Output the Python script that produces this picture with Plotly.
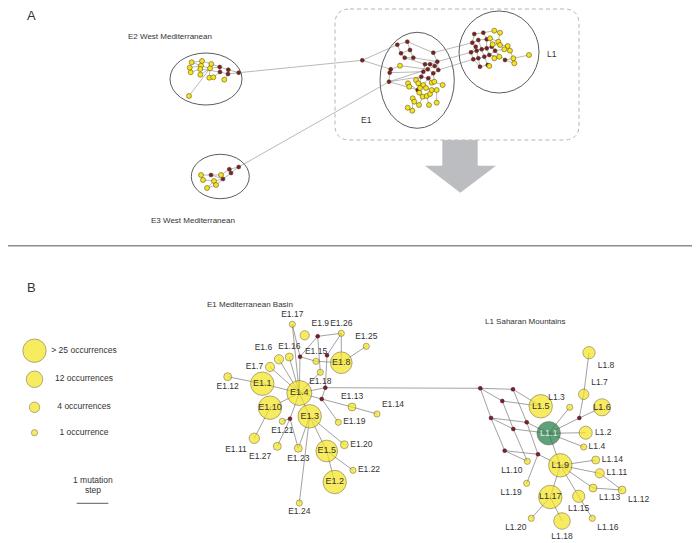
import plotly.graph_objects as go

# ---- panel A: overview network (pixel layout of the original figure) ----
a_x = [191.7, 202, 211.3, 189.7, 201, 190.7, 200.3, 210, 200.3, 209.3, 213.3, 224.3, 189,
       219.7, 220, 228.3, 228, 238.7,
       201, 203, 207, 214, 216, 221, 211, 223, 229.3, 231, 238.7,
       362.3,
       397.3, 407.3, 401, 410, 390.7, 389.7, 389, 404.7, 413.3, 433.3, 425, 430, 437.3, 434.7,
       427.7, 438.3, 423.3, 433.3, 421.3, 428.3, 417.7,
       400, 408, 409.3, 416, 418.3, 423.3, 431.7, 434.3, 442.7, 419.3, 422.7, 426.7, 430, 431.7,
       436.7, 412.7, 414.3, 419, 429, 436.7, 407.7, 412.3, 420, 426,
       474.3, 483.3, 472.3, 478.3, 486.7, 471, 476.7, 481.7, 486.7, 491.7, 473.3, 478.3, 484.3,
       489.3, 480, 487.7, 505, 475.7, 495,
       494.3, 500, 490, 498.3, 492.7, 500, 507.7, 504.3, 510, 499.3, 494.3, 489.3, 513.3, 514.3, 529]
a_y = [62.3, 61, 64, 67.7, 65.7, 72.3, 69, 68.3, 74.7, 77.7, 77.3, 79.7, 96,
       67, 72, 69.7, 74, 72.7,
       175, 180, 188, 181, 185, 175, 175, 179, 169.3, 173, 167,
       60.3,
       44.7, 41.7, 53.3, 50, 69.3, 72.7, 81.7, 57.7, 57.7, 52.7, 64.3, 64.3, 61.7, 66,
       69.3, 70, 71.7, 73.3, 76.7, 78.3, 90,
       65.7, 83.3, 86.7, 80, 83.3, 85, 82.7, 81.7, 85, 92.7, 96.7, 96, 94, 90,
       90, 98.3, 101.7, 105, 105, 102.7, 107.7, 110.7, 88, 88,
       34, 32.7, 42.7, 40, 39.3, 52.3, 50.7, 49.3, 48.3, 46.7, 59.3, 58.3, 56.7,
       55, 66.7, 65, 60, 46.7, 50.7,
       30.7, 32.7, 38.3, 41.7, 44.3, 45, 46, 49.3, 50.7, 56.7, 58.3, 66, 58.3, 63.3, 55]
a_kind = (["Y"] * 13 + ["R"] * 5 + ["Y"] * 6 + ["R"] * 5 + ["R"] + ["R"] * 21 + ["Y"] * 24
          + ["R"] * 19 + ["Y"] * 15)
a_edges = [(0, 1), (1, 2), (3, 4), (4, 7), (5, 6), (6, 14), (2, 13), (7, 13), (13, 15), (14, 16),
           (15, 17), (16, 17), (13, 14), (15, 16), (11, 16), (12, 7), (8, 7), (9, 7), (10, 14),
           (0, 4), (1, 6), (2, 7),
           (18, 24), (24, 23), (23, 26), (26, 28), (27, 28), (25, 27), (21, 25), (20, 21),
           (22, 25), (19, 21), (24, 25), (26, 27), (20, 22),
           (17, 29), (29, 30), (29, 34), (28, 36),
           (30, 31), (30, 32), (31, 33), (32, 33), (32, 37), (33, 38), (37, 38), (34, 35), (35, 36),
           (34, 51), (31, 39), (38, 42), (37, 40), (51, 44), (35, 46), (36, 48), (39, 42), (40, 41),
           (41, 42), (40, 46), (41, 43), (42, 45), (43, 45), (44, 47), (46, 48), (47, 49), (48, 49),
           (43, 44), (45, 47), (48, 50), (50, 60), (50, 52), (52, 53), (54, 55), (55, 73), (73, 60),
           (56, 74), (74, 64), (57, 58), (58, 59), (64, 65), (60, 61), (61, 62), (62, 63), (63, 64),
           (66, 67), (67, 68), (68, 61), (69, 62), (70, 65), (71, 72), (72, 66), (49, 56), (49, 57),
           (47, 58), (48, 54), (36, 50),
           (39, 77), (42, 81), (45, 85), (36, 44),
           (75, 76), (75, 77), (76, 79), (77, 78), (78, 79), (77, 92), (92, 80), (92, 81), (80, 81),
           (81, 82), (82, 83), (83, 84), (78, 82), (79, 83), (80, 85), (81, 86), (82, 87), (83, 88),
           (85, 86), (86, 87), (87, 88), (85, 89), (86, 89), (89, 90), (87, 90), (88, 93), (84, 93),
           (93, 91), (91, 107), (91, 106), (106, 108), (76, 94), (94, 95), (79, 96), (96, 97),
           (84, 98), (98, 99), (99, 100), (93, 101), (101, 102), (88, 103), (103, 104), (90, 105),
           (84, 96), (97, 99), (93, 103), (102, 106), (95, 97)]

# ---- panel B: haplotype networks ----
e1_names = ["E1.1", "E1.2", "E1.3", "E1.4", "E1.5", "E1.6", "E1.7", "E1.8", "E1.9", "E1.10",
            "E1.11", "E1.12", "E1.13", "E1.14", "E1.15", "E1.16", "E1.17", "E1.18", "E1.19",
            "E1.20", "E1.21", "E1.22", "E1.23", "E1.24", "E1.25", "E1.26", "E1.27"]
e1_x = [262.3, 334.7, 309.7, 299.3, 326.7, 279, 270, 341.3, 304.7, 270,
        254.3, 227.7, 352, 377, 316, 289.3, 292.3, 320.3, 338.3,
        344.3, 282.3, 353, 298.3, 299.3, 366.3, 341.3, 277.3]
e1_y = [383.7, 482, 416.3, 393, 451, 359.3, 367, 362.7, 335.3, 407.7,
        438.3, 376.7, 407, 414, 361.3, 357, 324.3, 372.3, 422.3,
        444.7, 421.3, 470.3, 448.3, 503, 346.3, 333.3, 446.3]
e1_counts = [26, 26, 26, 30, 22, 3, 3, 22, 3, 26,
             4, 2, 2, 1, 1, 2, 1, 1, 1,
             2, 1, 1, 2, 1, 1, 1, 2]
e1_labelpos = ["middle center", "middle center", "middle center", "middle center", "middle center",
               "top left", "middle left", "middle center", "top right", "middle center",
               "bottom left", "bottom center", "top center", "top right", "top center", "top center",
               "top center", "bottom center", "middle right",
               "middle right", "bottom center", "middle right", "bottom center", "bottom center",
               "top center", "top center", "bottom left"]

l1_names = ["L1.1", "L1.2", "L1.3", "L1.4", "L1.5", "L1.6", "L1.7", "L1.8", "L1.9", "L1.10",
            "L1.11", "L1.12", "L1.13", "L1.14", "L1.15", "L1.16", "L1.17", "L1.18", "L1.19", "L1.20"]
l1_x = [548.7, 585.7, 569.7, 583.7, 540.7, 602, 583.7, 589, 560.3, 527.3,
        599.7, 622, 593, 595.7, 578.7, 592.3, 550.3, 562, 526.7, 531.3]
l1_y = [433.3, 432.7, 407.3, 447, 406.3, 407.3, 394.3, 352.7, 465.3, 461.3,
        473.3, 490, 488, 460, 496.3, 518.3, 497, 521, 483.3, 518.3]
l1_counts = [26, 7, 1, 1, 26, 13, 4, 6, 26, 1,
             3, 2, 2, 2, 6, 1, 26, 12, 1, 1]
l1_labelpos = ["middle center", "middle right", "top left", "middle right", "middle center",
               "middle center", "top right", "bottom right", "middle center", "bottom left",
               "middle right", "bottom right", "bottom right", "middle right", "bottom center",
               "bottom right", "middle center", "bottom center", "bottom left", "bottom left"]

# median vectors (unsampled haplotypes)
mv_names = ["m1", "m2", "m3", "m4", "m5", "m6", "a", "b", "c", "d", "e", "f", "g", "h", "i"]
mv_x = [317.7, 300, 327, 325.3, 321.7, 290, 480.3, 513, 502.3, 491, 526.7, 513.3, 504.7, 538, 579.3]
mv_y = [336.3, 356.7, 355.3, 387.7, 399, 418.7, 388.3, 389.3, 401, 418, 422.3, 429, 450.7, 454.3, 418]

b_edges = [("E1.4", "E1.1"), ("E1.4", "E1.10"), ("E1.4", "E1.3"), ("E1.4", "E1.6"), ("E1.4", "E1.7"),
           ("E1.4", "E1.16"), ("E1.4", "E1.17"), ("E1.4", "m2"), ("E1.4", "E1.18"), ("E1.4", "m4"),
           ("E1.4", "m5"), ("E1.4", "m6"), ("E1.1", "E1.12"), ("E1.17", "m2"), ("m2", "m1"),
           ("m2", "E1.15"), ("E1.15", "E1.8"), ("m1", "E1.26"), ("E1.26", "m3"), ("E1.26", "E1.8"),
           ("m3", "m4"), ("m1", "E1.18"), ("m4", "m5"), ("E1.8", "E1.25"), ("m5", "E1.13"),
           ("m5", "E1.19"), ("E1.13", "E1.14"), ("E1.3", "E1.5"), ("E1.5", "E1.2"),
           ("E1.5", "E1.22"), ("E1.3", "E1.20"), ("E1.3", "E1.24"), ("E1.3", "E1.23"),
           ("m6", "E1.21"), ("m6", "E1.27"), ("m6", "E1.23"), ("E1.10", "E1.11"),
           ("m4", "a"),
           ("a", "b"), ("a", "c"), ("a", "d"), ("b", "L1.5"), ("c", "L1.5"), ("b", "e"), ("c", "f"),
           ("d", "e"), ("d", "f"), ("e", "L1.1"), ("f", "L1.1"), ("d", "g"), ("e", "h"),
           ("f", "L1.10"), ("g", "h"), ("g", "L1.10"), ("h", "L1.9"), ("h", "L1.19"),
           ("L1.1", "L1.9"), ("L1.1", "L1.3"), ("L1.1", "i"), ("i", "L1.6"), ("i", "L1.7"),
           ("L1.7", "L1.8"), ("L1.1", "L1.2"), ("L1.1", "L1.4"), ("L1.9", "L1.14"),
           ("L1.9", "L1.11"), ("L1.11", "L1.12"), ("L1.9", "L1.13"), ("L1.13", "L1.12"),
           ("L1.9", "L1.15"), ("L1.15", "L1.16"), ("L1.9", "L1.17"), ("L1.17", "L1.18"),
           ("L1.17", "L1.20")]

legend_labels = ["> 25 occurrences", "12 occurrences", "4 occurrences", "1 occurrence"]
legend_counts = [26, 12, 4, 1]

YELLOW = "#f4e41c"
MAROON = "#7b1f2e"
GREEN = "#1d7a46"
EDGE = "#8a8a8a"
TEXT = "#333333"
FONT = "Liberation Sans, Arial, sans-serif"

# the page body has an 8px margin, so the figure is drawn 8px in from the corner
PAGE_OFFSET = 8


def node_size(n):
    return 2 + 4.2 * n ** 0.5


fig = go.Figure()

# panel A edges
ex, ey = [], []
for i, j in a_edges:
    ex += [a_x[i], a_x[j], None]
    ey += [a_y[i], a_y[j], None]
fig.add_trace(go.Scatter(x=ex, y=ey, mode="lines", line=dict(color=EDGE, width=0.6),
                         hoverinfo="skip"))

# panel B edges
pos = {}
for names, xs, ys in [(e1_names, e1_x, e1_y), (l1_names, l1_x, l1_y), (mv_names, mv_x, mv_y)]:
    for n, x, y in zip(names, xs, ys):
        pos[n] = (x, y)
bx, by = [], []
for p, q in b_edges:
    bx += [pos[p][0], pos[q][0], None]
    by += [pos[p][1], pos[q][1], None]
fig.add_trace(go.Scatter(x=bx, y=by, mode="lines", line=dict(color=EDGE, width=0.8),
                         hoverinfo="skip"))

# panel A nodes
for kind, col, sz in [("R", MAROON, 4), ("Y", YELLOW, 5)]:
    fig.add_trace(go.Scatter(
        x=[x for x, k in zip(a_x, a_kind) if k == kind],
        y=[y for y, k in zip(a_y, a_kind) if k == kind],
        mode="markers",
        marker=dict(color=col, size=sz, line=dict(color="#4a3a10", width=0.5)),
        hoverinfo="skip"))

# median vectors in B
fig.add_trace(go.Scatter(x=mv_x, y=mv_y, mode="markers",
                         marker=dict(color=MAROON, size=4, line=dict(color="#3a0a10", width=0.4)),
                         hoverinfo="skip"))

# haplotype nodes in B
for names, xs, ys, counts, lpos in [(e1_names, e1_x, e1_y, e1_counts, e1_labelpos),
                                    (l1_names, l1_x, l1_y, l1_counts, l1_labelpos)]:
    colors = [GREEN if n == "L1.1" else YELLOW for n in names]
    tcolors = ["#e8e8e8" if n == "L1.1" else TEXT for n in names]
    fig.add_trace(go.Scatter(
        x=xs, y=ys, mode="markers+text", text=names, textposition=lpos,
        textfont=dict(family=FONT, size=[9 if p == "middle center" else 8.5 for p in lpos],
                      color=tcolors),
        marker=dict(color=colors, size=[node_size(c) for c in counts],
                    line=dict(color="#4a3a10", width=0.6)),
        hoverinfo="skip"))

# size legend
fig.add_trace(go.Scatter(
    x=[34.5] * 4, y=[350.7, 379.3, 407.3, 432.7], mode="markers",
    marker=dict(color=YELLOW, size=[node_size(c) for c in legend_counts],
                line=dict(color="#4a3a10", width=0.6)),
    hoverinfo="skip"))
fig.add_trace(go.Scatter(
    x=[84] * 4, y=[350.7, 379.3, 407.3, 432.7], mode="text", text=legend_labels,
    textfont=dict(family=FONT, size=8.5, color=TEXT), hoverinfo="skip"))

shapes = [
    # divider between panels
    dict(type="line", x0=0, x1=700, y0=245.7, y1=245.7, line=dict(color="#8c8c8c", width=1.5)),
    # dashed rounded box around E1 + L1
    dict(type="path",
         path="M 350 9 L 564 9 Q 579 9 579 24 L 579 125 Q 579 140 564 140 L 350 140 "
              "Q 335 140 335 125 L 335 24 Q 335 9 350 9 Z",
         line=dict(color="#b5b5b5", width=1, dash="4px,3px")),
    # grey arrow
    dict(type="path",
         path="M 442.3 140 L 477.7 140 L 477.7 165.7 L 496 165.7 L 460.3 192.7 L 425 165.7 "
              "L 442.3 165.7 Z",
         fillcolor="#bcbdc0", line=dict(width=0)),
    # cluster ellipses
    dict(type="circle", x0=170, x1=242, y0=53, y1=105, line=dict(color="#333", width=0.8)),
    dict(type="circle", x0=191.3, x1=249.3, y0=154.3, y1=198.7, line=dict(color="#333", width=0.8)),
    dict(type="circle", x0=380, x1=454.3, y0=32.3, y1=128.3, line=dict(color="#333", width=0.8)),
    dict(type="circle", x0=459, x1=539, y0=11, y1=93, line=dict(color="#333", width=0.8)),
    # scale bar
    dict(type="line", x0=76.7, x1=108.3, y0=503.3, y1=503.3, line=dict(color="#333", width=0.8)),
]
for s in shapes:
    s["layer"] = "below"
    s["xref"] = "x"
    s["yref"] = "y"

texts = [
    ("A", 31.7, 15, 13),
    ("B", 31.7, 287, 13),
    ("E2 West Mediterranean", 170, 36, 8),
    ("E3 West Mediterranean", 192.7, 220.7, 8),
    ("E1", 366, 120, 8.5),
    ("L1", 551.7, 54.3, 8.5),
    ("E1 Mediterranean Basin", 250, 304, 8),
    ("L1 Saharan Mountains", 525, 321.7, 8),
    ("1 mutation", 92.7, 480, 8.5),
    ("step", 92.7, 490, 8.5),
]
annotations = [dict(text=t, x=x, y=y, xref="x", yref="y", showarrow=False,
                    font=dict(family=FONT, size=s, color=TEXT))
               for t, x, y, s in texts]

fig.update_layout(
    width=700 - PAGE_OFFSET, height=543 - PAGE_OFFSET,
    margin=dict(l=0, r=0, t=0, b=0),
    paper_bgcolor="white", plot_bgcolor="white",
    showlegend=False,
    xaxis=dict(range=[PAGE_OFFSET, 700], visible=False, fixedrange=True),
    yaxis=dict(range=[543, PAGE_OFFSET], visible=False, fixedrange=True),
    shapes=shapes,
    annotations=annotations,
)

fig.write_html("out.html")
